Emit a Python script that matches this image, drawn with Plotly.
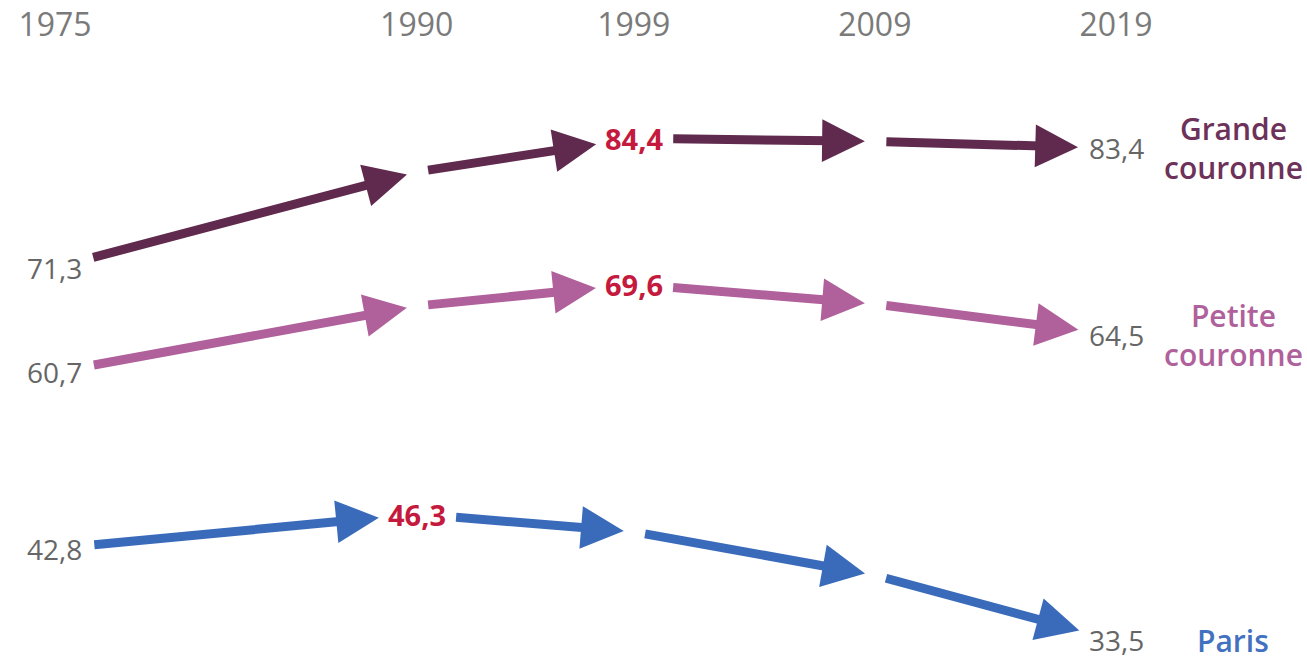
import plotly.graph_objects as go

years = [1975, 1990, 1999, 2009, 2019]
year_labels = ["1975", "1990", "1999", "2009", "2019"]

series_names = ["Grande<br>couronne", "Petite<br>couronne", "Paris"]
grande_couronne = [71.3, 81.0, 84.4, 84.1, 83.4]
petite_couronne = [60.7, 67.4, 69.6, 67.6, 64.5]
paris = [42.8, 46.3, 44.5, 40.1, 33.5]

series_values = [grande_couronne, petite_couronne, paris]
arrow_colors = ["#5f2a4d", "#b0609a", "#3a6bbb"]
name_colors = ["#6c3259", "#b0609a", "#4271c0"]

FONT = "Open Sans"
GRAY = "#666666"
RED = "#c41a3d"

fig = go.Figure()

for vals, name in zip(series_values, series_names):
    fig.add_trace(go.Scatter(x=years, y=vals, mode="markers",
                             marker=dict(opacity=0), hoverinfo="skip",
                             showlegend=False, name=name.replace("<br>", " ")))

def fmt(v):
    return f"{v:.1f}".replace(".", ",")

for vals, col, ncol, name in zip(series_values, arrow_colors, name_colors, series_names):
    n = len(vals)
    imax = max(range(n), key=lambda i: vals[i])
    labeled = {0, imax, n - 1}
    for i in range(n - 1):
        fig.add_annotation(
            x=years[i + 1], y=vals[i + 1], ax=years[i], ay=vals[i],
            xref="x", yref="y", axref="x", ayref="y",
            text="", showarrow=True, arrowhead=2, arrowsize=0.95,
            arrowwidth=9, arrowcolor=col,
            standoff=38 if (i + 1) in labeled else 10,
            startstandoff=38 if i in labeled else 10,
        )
    for i in sorted(labeled):
        is_max = (i == imax)
        fig.add_annotation(
            x=years[i], y=vals[i], text=fmt(vals[i]), showarrow=False,
            xref="x", yref="y",
            font=dict(family=FONT, size=29 if is_max else 28,
                      color=RED if is_max else GRAY,
                      weight=700 if is_max else 400),
        )
    fig.add_annotation(
        x=years[-1], y=vals[-1], xshift=117, text=name, showarrow=False,
        xref="x", yref="y",
        font=dict(family=FONT, size=30, color=ncol, weight=600),
    )

fig.update_layout(
    width=1307, height=661,
    margin=dict(l=0, r=0, t=43, b=0),
    paper_bgcolor="white", plot_bgcolor="white",
    showlegend=False,
    xaxis=dict(range=[1972.72, 2026.92], side="top", tickvals=years,
               ticktext=year_labels, showgrid=False, zeroline=False,
               showline=False, ticks="",
               tickfont=dict(family=FONT, size=32, color="#7a7a7a")),
    yaxis=dict(range=[31.4, 94.07], visible=False, showgrid=False,
               zeroline=False),
)

fig.write_html("out.html")
